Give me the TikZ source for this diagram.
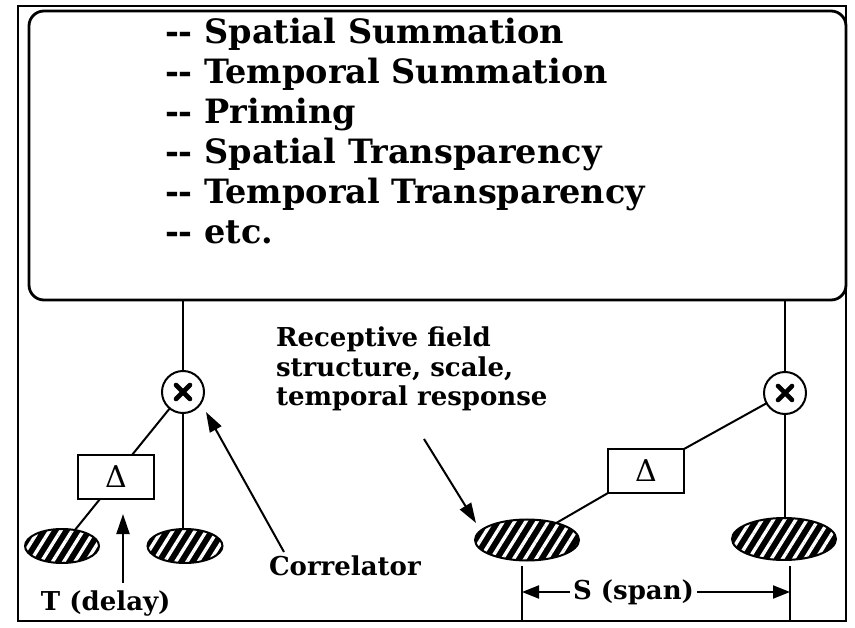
\documentclass[tikz,border=0pt]{standalone}
\usepackage{fontspec}
\setmainfont{DejaVu Serif}
\usetikzlibrary{arrows.meta,patterns.meta,shapes.geometric}
\begin{document}
\begin{tikzpicture}[x=1pt,y=-1pt,
  every node/.style={inner sep=0pt,outer sep=0pt},
  framebox/.style={draw,line width=2.8pt},
  conn/.style={line width=2pt},
  arr/.style={conn,-{Triangle[length=20pt,width=13pt]}},
  sarr/.style={conn,-{Triangle[length=17pt,width=13pt]}},
  listtxt/.style={anchor=base west,font=\fontsize{33.5}{40}\selectfont\bfseries},
  lbl/.style={anchor=base west,font=\fontsize{26}{31}\selectfont\bfseries},
  dbox/.style={draw,line width=2pt,minimum width=76pt,minimum height=44pt,font=\fontsize{30}{30}\selectfont},
  rf/.style={ellipse,draw=black,line width=2pt,preaction={fill=black},
    pattern={Lines[angle=58,distance=9.5pt,line width=3.4pt]},pattern color=white},
  corr/.style={circle,draw,line width=2pt,minimum size=42pt,
    path picture={
      \draw[line width=4.6pt,line cap=round]
        ([shift={(-7pt,-7pt)}]path picture bounding box.center) -- ([shift={(7pt,7pt)}]path picture bounding box.center)
        ([shift={(-7pt,7pt)}]path picture bounding box.center) -- ([shift={(7pt,-7pt)}]path picture bounding box.center);}}
]
\useasboundingbox (0,0) rectangle (855,628);

% outer frame and rounded box
\node[framebox,minimum width=828pt,minimum height=615pt] (frame) at (432,313.5) {};
\node[framebox,rounded corners=15pt,minimum width=817pt,minimum height=289pt] (box) at (437.5,155.5) {};

% list
\node[listtxt] (l1) at (165,44) {-{}- Spatial Summation};
\node[listtxt] (l2) at (165,84) {-{}- Temporal Summation};
\node[listtxt] (l3) at (165,124) {-{}- Priming};
\node[listtxt] (l4) at (165,164) {-{}- Spatial Transparency};
\node[listtxt] (l5) at (165,204) {-{}- Temporal Transparency};
\node[listtxt] (l6) at (165,244) {-{}- etc.};

% left correlator
\node[corr] (lc) at (183,392) {};
\node[dbox] (ld) at (116,477) {Δ};
\node[rf,minimum width=74pt,minimum height=34pt] (le1) at (62,546) {};
\node[rf,minimum width=75pt,minimum height=34pt] (le2) at (185,546) {};
\draw[conn] (lc.north) -- (lc.north |- box.south);
\draw[conn] (lc) -- ([xshift=16pt]ld.north);
\draw[conn] ([xshift=-16pt]ld.south) -- (le1);
\draw[conn] (lc.south) -- (lc.south |- le2.north);

% right correlator
\node[corr] (rc) at (785,393) {};
\node[dbox] (rd) at (646,471) {Δ};
\node[rf,minimum width=104pt,minimum height=41pt] (re1) at (527,540) {};
\node[rf,minimum width=104pt,minimum height=42pt] (re2) at (784,539) {};
\draw[conn] (rc.north) -- (rc.north |- box.south);
\draw[conn] (rc) -- (rd.north east);
\draw[conn] (rd.south west) -- (re1);
\draw[conn] (rc.south) -- (rc.south |- re2.north);

% labels
\node[lbl] (rf1) at (276,347) {Receptive field};
\node[lbl] (rf2) at (276,377) {structure, scale,};
\node[lbl] (rf3) at (276,406) {temporal response};
\node[lbl] (cor) at (269,575) {Correlator};
\node[lbl] (tdl) at (41,610) {T (delay)};
\node[lbl] (spn) at (573,599) {S (span)};

% annotation arrows
\coordinate (tt) at (123,583);
\coordinate (th) at (123,514);
\draw[arr] (tt) -- (th);
\coordinate (ct) at (284,552);
\coordinate (ch) at (206,412);
\draw[arr] (ct) -- (ch);
\coordinate (rt) at (424,439);
\coordinate (rh) at (476,523);
\draw[arr] (rt) -- (rh);

% span dimension
\coordinate (dl1) at (522,566);
\coordinate (dl2) at (522,621);
\coordinate (dr1) at (790,566);
\coordinate (dr2) at (790,621);
\draw[conn] (dl1) -- (dl2);
\draw[conn] (dr1) -- (dr2);
\coordinate (sl) at ([xshift=-3pt,yshift=7pt]spn.base west);
\coordinate (sr) at ([xshift=3pt,yshift=7pt]spn.base east);
\draw[sarr] (sl) -- (sl -| dl1);
\draw[sarr] (sr) -- (sr -| dr1);
\end{tikzpicture}
\end{document}
